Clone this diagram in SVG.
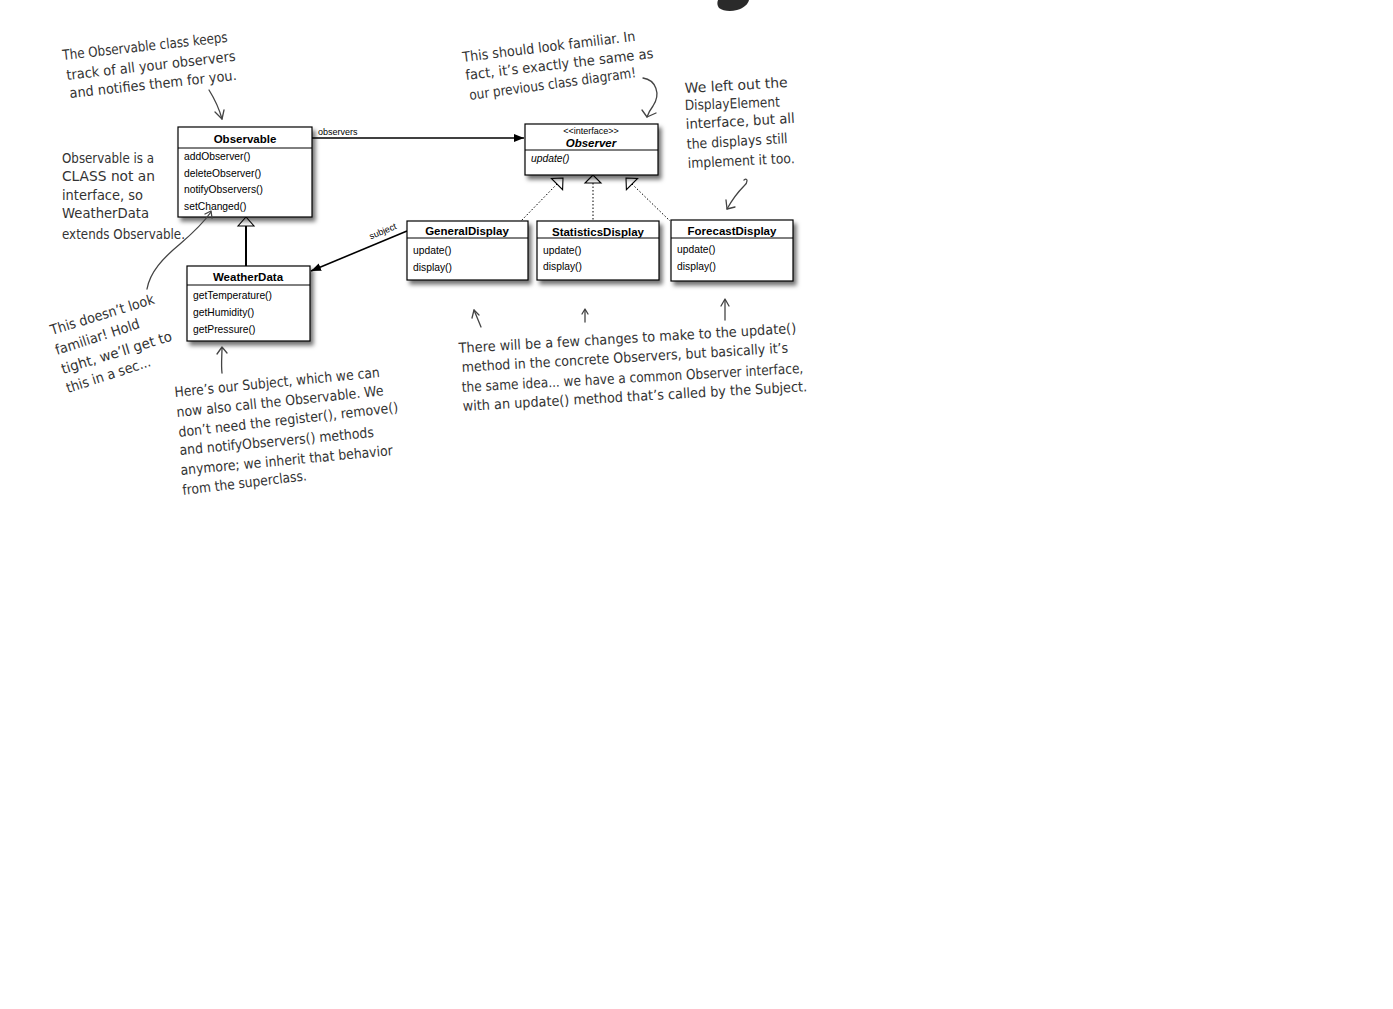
<svg xmlns="http://www.w3.org/2000/svg" width="1393" height="1009" viewBox="0 0 1393 1009">
  <style>
    .box { fill: #fff; stroke: #000; stroke-width: 1.2; }
    .div { stroke: #000; stroke-width: 1; }
    .title { font-family: "Liberation Sans", Arial, sans-serif; font-size: 11.5px; font-weight: bold; text-anchor: middle; fill: #000; }
    .meth { font-family: "Liberation Sans", Arial, sans-serif; font-size: 10.3px; fill: #000; }
    .small { font-family: "Liberation Sans", Arial, sans-serif; font-size: 9px; fill: #000; }
    .hand { font-family: "DejaVu Sans", "Noto Sans", sans-serif; font-size: 14px; fill: #333; }
    .ink { fill: none; stroke: #444; stroke-width: 1.3; stroke-linecap: round; stroke-linejoin: round; }
    .solid { fill: none; stroke: #000; stroke-width: 1.6; }
    .dot { fill: none; stroke: #000; stroke-width: 1; stroke-dasharray: 1.5 2; }
    .tri { fill: #fff; stroke: #000; stroke-width: 1.1; }
  </style>
  <defs>
    <filter id="shadow" x="-10%" y="-10%" width="130%" height="140%">
      <feDropShadow dx="3" dy="4" stdDeviation="2" flood-color="#000" flood-opacity="0.55"/>
    </filter>
    <marker id="filled" viewBox="0 0 10 10" refX="10" refY="5" markerWidth="10" markerHeight="10" markerUnits="userSpaceOnUse" orient="auto">
      <path d="M0,1 L10,5 L0,9 Z" fill="#000"/>
    </marker>
  </defs>

  <rect width="1393" height="1009" fill="#fff"/>

  <!-- partial dark shape at the top edge -->
  <path d="M718,0 L749,0 C748,4 744,8 737,10 C730,12 723,11 719,8 C717,5 717,3 718,0 Z" fill="#2a2a2a"/>

  <!-- connectors -->
  <g id="connectors">
    <!-- association: Observable -> Observer -->
    <line x1="312" y1="138" x2="524" y2="138" class="solid" marker-end="url(#filled)"/>
    <text x="318" y="135" class="small">observers</text>
    <!-- association: GeneralDisplay -> WeatherData -->
    <line x1="407" y1="231" x2="311" y2="271" class="solid" marker-end="url(#filled)"/>
    <text x="0" y="0" class="small" text-anchor="middle" transform="translate(384,234) rotate(-22.6)">subject</text>
    <!-- generalization: WeatherData -> Observable -->
    <line x1="246" y1="226" x2="246" y2="266" stroke="#000" stroke-width="2"/>
    <polygon points="246,217 238,226 254,226" class="tri"/>
    <!-- realizations: displays -> Observer -->
    <line x1="557" y1="184" x2="521" y2="221" class="dot"/>
    <polygon points="563,178 551.4,178.4 562.6,189.6" class="tri"/>
    <line x1="593" y1="183" x2="593" y2="221" class="dot"/>
    <polygon points="593,175 585,183 601,183" class="tri"/>
    <line x1="632" y1="184" x2="670" y2="221" class="dot"/>
    <polygon points="626,178 637.6,178.4 626.4,189.6" class="tri"/>
  </g>

  <!-- class nodes -->
  <g id="observable">
    <rect x="178" y="127" width="134" height="90" class="box" filter="url(#shadow)"/>
    <line x1="178" y1="148" x2="312" y2="148" class="div"/>
    <text x="245" y="143" class="title">Observable</text>
    <text x="184" y="160" class="meth">addObserver()</text>
    <text x="184" y="177" class="meth">deleteObserver()</text>
    <text x="184" y="193" class="meth">notifyObservers()</text>
    <text x="184" y="210" class="meth">setChanged()</text>
  </g>

  <g id="observer">
    <rect x="525" y="124" width="133" height="51" class="box" filter="url(#shadow)"/>
    <line x1="525" y1="150" x2="658" y2="150" class="div"/>
    <text x="591" y="134" class="small" text-anchor="middle" font-size="8">&lt;&lt;interface&gt;&gt;</text>
    <text x="591" y="147" class="title" font-style="italic">Observer</text>
    <text x="531" y="162" class="meth" font-style="italic">update()</text>
  </g>

  <g id="weatherdata">
    <rect x="187" y="266" width="123" height="75" class="box" filter="url(#shadow)"/>
    <line x1="187" y1="285" x2="310" y2="285" class="div"/>
    <text x="248" y="281" class="title">WeatherData</text>
    <text x="193" y="299" class="meth">getTemperature()</text>
    <text x="193" y="316" class="meth">getHumidity()</text>
    <text x="193" y="333" class="meth">getPressure()</text>
  </g>

  <g id="generaldisplay">
    <rect x="407" y="221" width="121" height="59" class="box" filter="url(#shadow)"/>
    <line x1="407" y1="238" x2="528" y2="238" class="div"/>
    <text x="467" y="235" class="title">GeneralDisplay</text>
    <text x="413" y="254" class="meth">update()</text>
    <text x="413" y="271" class="meth">display()</text>
  </g>

  <g id="statisticsdisplay">
    <rect x="537" y="221" width="122" height="59" class="box" filter="url(#shadow)"/>
    <line x1="537" y1="238" x2="659" y2="238" class="div"/>
    <text x="598" y="236" class="title">StatisticsDisplay</text>
    <text x="543" y="254" class="meth">update()</text>
    <text x="543" y="270" class="meth">display()</text>
  </g>

  <g id="forecastdisplay">
    <rect x="671" y="220" width="122" height="61" class="box" filter="url(#shadow)"/>
    <line x1="671" y1="238" x2="793" y2="238" class="div"/>
    <text x="732" y="235" class="title">ForecastDisplay</text>
    <text x="677" y="253" class="meth">update()</text>
    <text x="677" y="270" class="meth">display()</text>
  </g>

  <!-- handwritten notes -->
  <g id="note-observable-tracks">
    <text class="hand" x="63" y="60" textLength="166" lengthAdjust="spacingAndGlyphs" transform="rotate(-6.3 63 60)">The Observable class keeps</text>
    <text class="hand" x="67" y="80" textLength="170" lengthAdjust="spacingAndGlyphs" transform="rotate(-6.5 67 80)">track of all your observers</text>
    <text class="hand" x="70" y="98" textLength="168" lengthAdjust="spacingAndGlyphs" transform="rotate(-6.2 70 98)">and notifies them for you.</text>
    <path class="ink" d="M209,90 C214,98 219,108 222,119"/>
    <path class="ink" d="M215,112 L222,119 L224,110"/>
  </g>

  <g id="note-familiar">
    <text class="hand" x="463" y="62" textLength="174" lengthAdjust="spacingAndGlyphs" transform="rotate(-7 463 62)">This should look familiar. In</text>
    <text class="hand" x="466" y="80" textLength="189" lengthAdjust="spacingAndGlyphs" transform="rotate(-6.7 466 80)">fact, it’s exactly the same as</text>
    <text class="hand" x="470" y="100" textLength="168" lengthAdjust="spacingAndGlyphs" transform="rotate(-7.8 470 100)">our previous class diagram!</text>
    <path class="ink" d="M643,78 C656,80 661,94 653,106 C650,110 648,114 647,117"/>
    <path class="ink" d="M642,110 L647,117 L656,113"/>
  </g>

  <g id="note-displayelement">
    <text class="hand" x="685" y="93" textLength="103" lengthAdjust="spacingAndGlyphs" transform="rotate(-3.3 685 93)">We left out the</text>
    <text class="hand" x="685" y="110" textLength="95" lengthAdjust="spacingAndGlyphs" transform="rotate(-2 685 110)">DisplayElement</text>
    <text class="hand" x="686" y="129" textLength="109" lengthAdjust="spacingAndGlyphs" transform="rotate(-3.2 686 129)">interface, but all</text>
    <text class="hand" x="687" y="149" textLength="101" lengthAdjust="spacingAndGlyphs" transform="rotate(-3.4 687 149)">the displays still</text>
    <text class="hand" x="688" y="168" textLength="107" lengthAdjust="spacingAndGlyphs" transform="rotate(-2.7 688 168)">implement it too.</text>
    <path class="ink" d="M744,180 C748,177 748,183 744,186 C738,192 732,200 727,209"/>
    <path class="ink" d="M726,200 L727,209 L735,207"/>
  </g>

  <g id="note-class-not-interface">
    <text class="hand" x="62" y="163" textLength="92" lengthAdjust="spacingAndGlyphs">Observable is a</text>
    <text class="hand" x="62" y="181" textLength="93" lengthAdjust="spacingAndGlyphs">CLASS not an</text>
    <text class="hand" x="62" y="200" textLength="81" lengthAdjust="spacingAndGlyphs">interface, so</text>
    <text class="hand" x="62" y="218" textLength="87" lengthAdjust="spacingAndGlyphs">WeatherData</text>
    <text class="hand" x="62" y="239" textLength="123" lengthAdjust="spacingAndGlyphs">extends Observable.</text>
  </g>

  <g id="note-not-familiar">
    <text class="hand" x="52" y="335" textLength="108" lengthAdjust="spacingAndGlyphs" transform="rotate(-17 52 335)">This doesn’t look</text>
    <text class="hand" x="57" y="355" textLength="88" lengthAdjust="spacingAndGlyphs" transform="rotate(-18 57 355)">familiar! Hold</text>
    <text class="hand" x="63" y="374" textLength="115" lengthAdjust="spacingAndGlyphs" transform="rotate(-17 63 374)">tight, we’ll get to</text>
    <text class="hand" x="68" y="393" textLength="88" lengthAdjust="spacingAndGlyphs" transform="rotate(-18 68 393)">this in a sec...</text>
    <path class="ink" d="M147,289 C150,272 163,258 180,244 C194,232 204,222 211,212"/>
    <path class="ink" d="M205,214 L211,211 L212,218"/>
  </g>

  <g id="note-subject">
    <text class="hand" x="175" y="397" textLength="206" lengthAdjust="spacingAndGlyphs" transform="rotate(-5.6 175 397)">Here’s our Subject, which we can</text>
    <text class="hand" x="177" y="417" textLength="208" lengthAdjust="spacingAndGlyphs" transform="rotate(-6 177 417)">now also call the Observable.  We</text>
    <text class="hand" x="179" y="437" textLength="221" lengthAdjust="spacingAndGlyphs" transform="rotate(-6.5 179 437)">don’t need the register(), remove()</text>
    <text class="hand" x="180" y="455" textLength="195" lengthAdjust="spacingAndGlyphs" transform="rotate(-5.3 180 455)">and notifyObservers() methods</text>
    <text class="hand" x="181" y="475" textLength="213" lengthAdjust="spacingAndGlyphs" transform="rotate(-5.4 181 475)">anymore; we inherit that behavior</text>
    <text class="hand" x="183" y="495" textLength="125" lengthAdjust="spacingAndGlyphs" transform="rotate(-6.8 183 495)">from the superclass.</text>
    <path class="ink" d="M222,373 C221,364 222,356 222,348"/>
    <path class="ink" d="M217,354 L222,347 L227,353"/>
  </g>

  <g id="note-update">
    <text class="hand" x="459" y="353" textLength="338" lengthAdjust="spacingAndGlyphs" transform="rotate(-3.4 459 353)">There will be a few changes to make to the update()</text>
    <text class="hand" x="462" y="372" textLength="327" lengthAdjust="spacingAndGlyphs" transform="rotate(-3.4 462 372)">method in the concrete Observers, but basically it’s</text>
    <text class="hand" x="462" y="392" textLength="342" lengthAdjust="spacingAndGlyphs" transform="rotate(-3.2 462 392)">the same idea... we have a common Observer interface,</text>
    <text class="hand" x="463" y="411" textLength="345" lengthAdjust="spacingAndGlyphs" transform="rotate(-3.3 463 411)">with an update() method that’s called by the Subject.</text>
    <path class="ink" d="M481,327 L474,310"/>
    <path class="ink" d="M472,318 L474,310 L479,315"/>
    <path class="ink" d="M585,322 L585,310"/>
    <path class="ink" d="M582,314 L585,309 L588,314"/>
    <path class="ink" d="M725,320 L725,300"/>
    <path class="ink" d="M721,306 L725,299 L729,306"/>
  </g>
</svg>
